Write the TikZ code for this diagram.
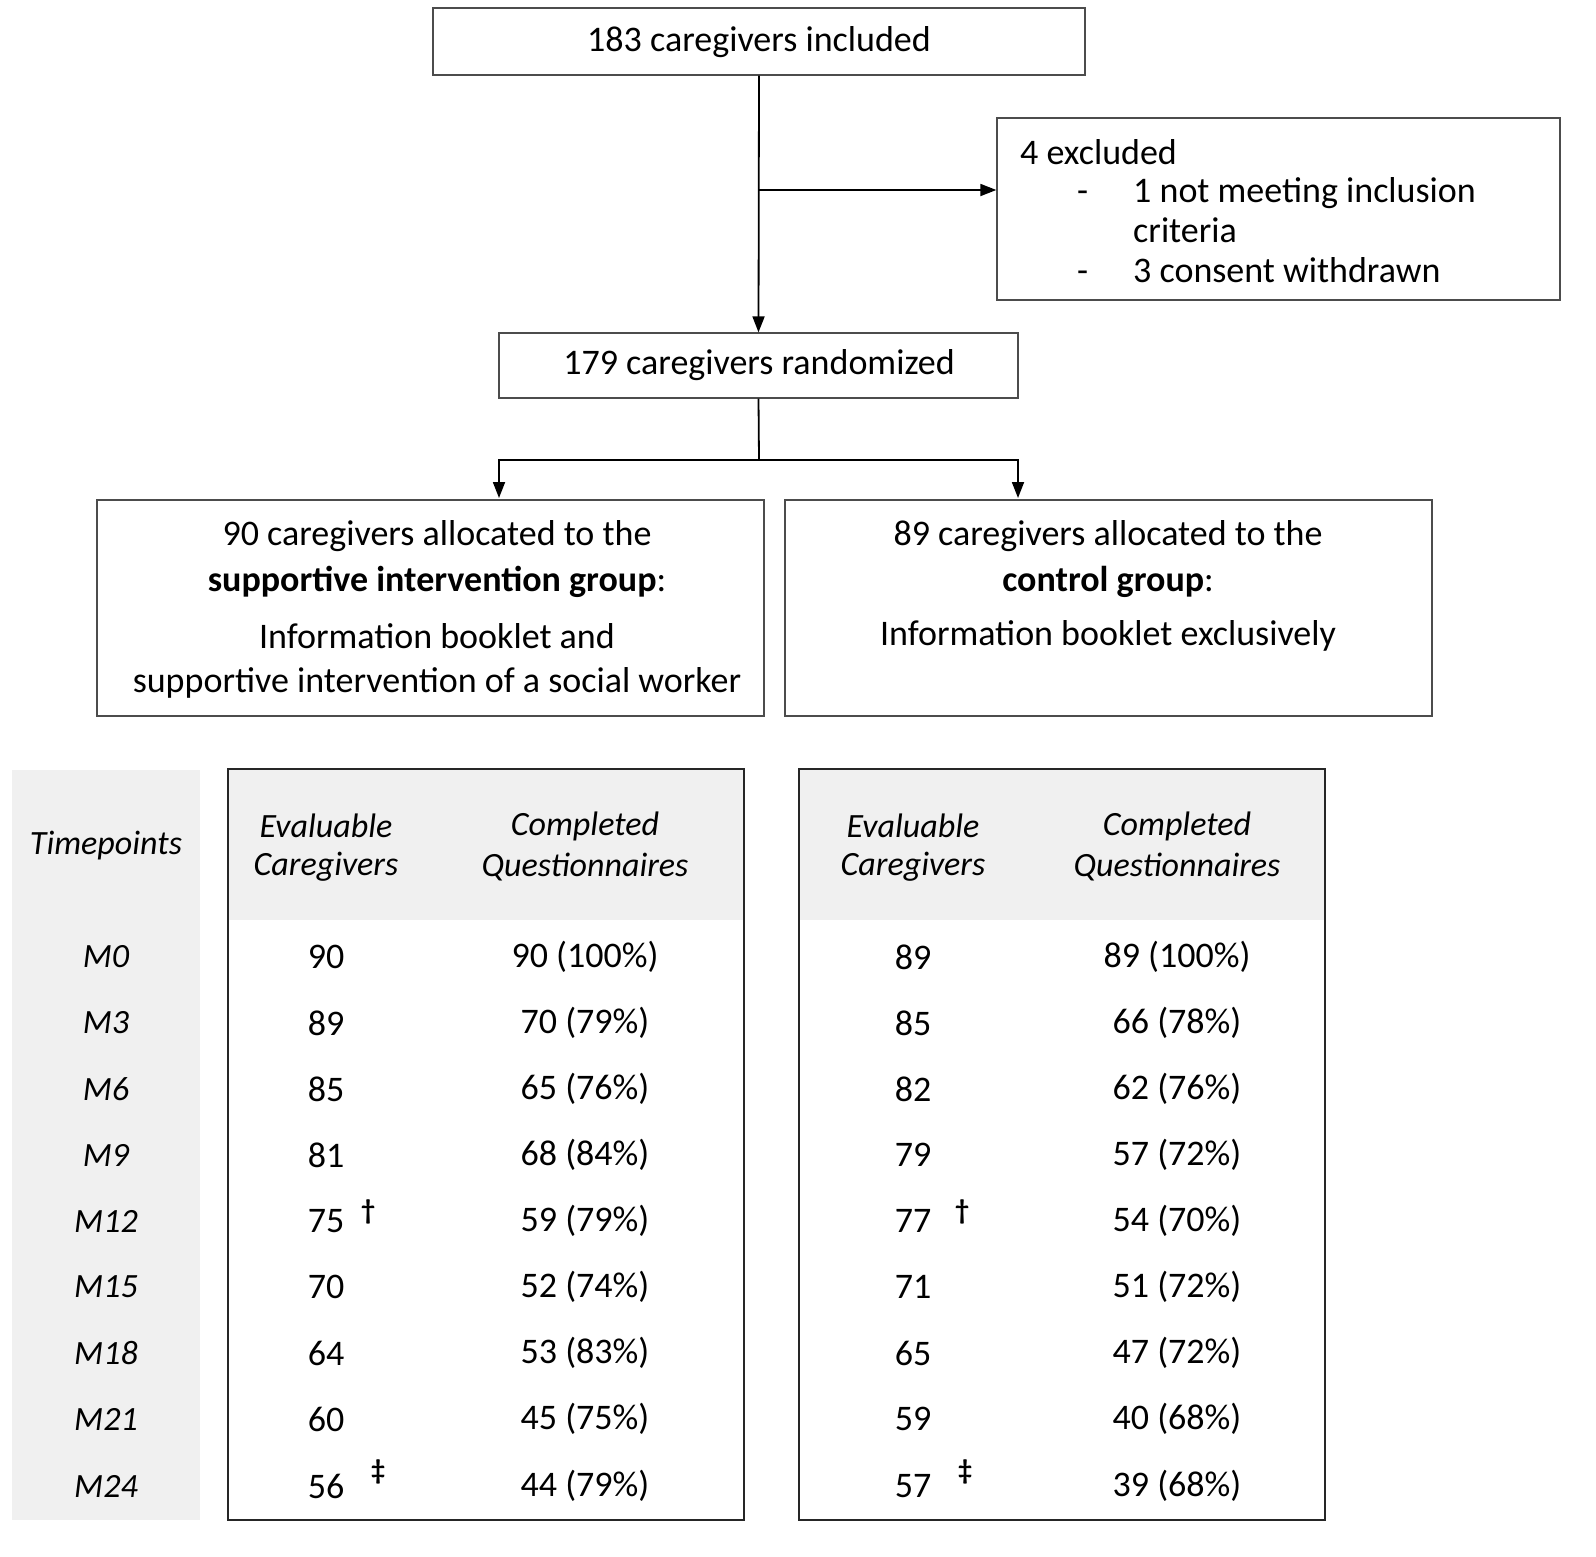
\documentclass[tikz,border=0pt]{standalone}
\usepackage{fontspec}
\setmainfont{Carlito}
\usetikzlibrary{arrows.meta}
\begin{document}
\begin{tikzpicture}[x=1pt,y=-1pt,
  box/.style={draw=black!70,line width=1.3pt},
  tbox/.style={draw=black!85,line width=2.2pt},
  t/.style={font=\fontsize{36}{40}\selectfont,inner sep=0pt,anchor=center},
  tl/.style={t,anchor=base west},
  it/.style={t,font=\fontsize{34}{38}\selectfont\itshape},
  dg/.style={t,font=\fontsize{28}{30}\selectfont\bfseries},
  arr/.style={line width=1.8pt,-{Triangle[length=16pt,width=12pt]}},
  ln/.style={line width=1.8pt}]
\useasboundingbox (0,0) rectangle (1596,1556);
% boxes
\node[box,minimum width=652pt,minimum height=67pt,inner sep=0pt] (inc) at (759,41.5) {};
\node[t] at (759,42) {183 caregivers included};
\node[box,minimum width=563pt,minimum height=182pt,inner sep=0pt] (exc) at (1278.5,209) {};
\node[tl] at (1020,164) {4 excluded};
\node[tl] at (1077,202) {-};
\node[tl] at (1133,202) {1 not meeting inclusion};
\node[tl] at (1133,242) {criteria};
\node[tl] at (1077,282) {-};
\node[tl] at (1133,282) {3 consent withdrawn};
\node[box,minimum width=519pt,minimum height=65pt,inner sep=0pt] (ran) at (758.5,365.5) {};
\node[t] at (759,365) {179 caregivers randomized};
\node[box,minimum width=667pt,minimum height=216pt,inner sep=0pt] (g1) at (430.5,608) {};
\node[t] at (437,536) {90 caregivers allocated to the};
\node[t] at (437,582) {\textbf{supportive intervention group}:};
\node[t] at (437,636) {Information booklet and};
\node[t] at (437,683) {supportive intervention of a social worker};
\node[box,minimum width=647pt,minimum height=216pt,inner sep=0pt] (g2) at (1108.5,608) {};
\node[t] at (1108,536) {89 caregivers allocated to the};
\node[t] at (1108,582) {\textbf{control group}:};
\node[t] at (1108,636) {Information booklet exclusively};
% connectors
\coordinate (br) at (759,190);
\coordinate (sp) at (759,460);
\draw[arr] (inc.south) -- (ran.north);
\draw[arr] (br) -- (exc.west |- br);
\draw[ln] (ran.south) -- (sp);
\draw[arr] (sp) -| (499,498);
\draw[arr] (sp) -| (1018,498);
% tables
\fill[black!6] (12,770) rectangle (200,1520);
\fill[black!6] (228,769) rectangle (744,920);
\fill[black!6] (799,769) rectangle (1325,920);
\draw[tbox] (228,769) rectangle (744,1520);
\draw[tbox] (799,769) rectangle (1325,1520);
\node[it] at (106,846) {Timepoints};
\node[it] at (326,826) {Evaluable};
\node[it] at (326,867) {Caregivers};
\node[it] at (585,826) {Completed};
\node[it] at (585,867) {Questionnaires};
\node[it] at (913,826) {Evaluable};
\node[it] at (913,867) {Caregivers};
\node[it] at (1177,826) {Completed};
\node[it] at (1177,867) {Questionnaires};
\foreach \y/\m/\a/\b/\c/\d in {957/M0/90/90 (100\%)/89/89 (100\%),
 1023/M3/89/70 (79\%)/85/66 (78\%),
 1089/M6/85/65 (76\%)/82/62 (76\%),
 1155/M9/81/68 (84\%)/79/57 (72\%),
 1221/M12/75/59 (79\%)/77/54 (70\%),
 1287/M15/70/52 (74\%)/71/51 (72\%),
 1353/M18/64/53 (83\%)/65/47 (72\%),
 1419/M21/60/45 (75\%)/59/40 (68\%),
 1486/M24/56/44 (79\%)/57/39 (68\%)}{
 \node[it] at (106,\y) {\m};
 \node[t] at (326,\y) {\a};
 \node[t] at (585,\y) {\b};
 \node[t] at (913,\y) {\c};
 \node[t] at (1177,\y) {\d};
}
\node[dg] at (368,1212) {†};
\node[dg] at (962,1212) {†};
\node[dg] at (378,1472) {‡};
\node[dg] at (965,1472) {‡};
\end{tikzpicture}
\end{document}
